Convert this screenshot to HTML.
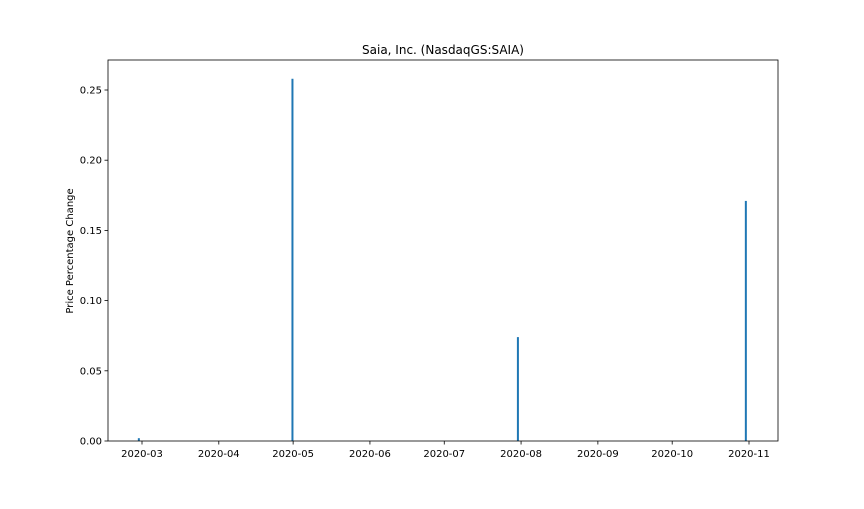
<!DOCTYPE html>
<html><head><meta charset="utf-8"><style>
body{margin:0;background:#fff;}
svg text{font-family:"DejaVu Sans","Liberation Sans",sans-serif;fill:#000;}
</style></head><body>
<svg id="chart" width="864" height="504" xmlns="http://www.w3.org/2000/svg">
<text x="443" y="54" font-size="12" text-anchor="middle">Saia, Inc. (NasdaqGS:SAIA)</text>
<text transform="translate(73,251) rotate(-90)" font-size="10" text-anchor="middle">Price Percentage Change</text>
<g id="marks"></g>
<g id="axes"></g>
</svg>
<script>
const dates=["2020-02-28","2020-04-30","2020-07-30","2020-10-30"];
const values=[0.002,0.258,0.074,0.171];
const yTicks=[0,0.05,0.10,0.15,0.20,0.25];
const yTickLabels=["0.00","0.05","0.10","0.15","0.20","0.25"];
const xTicks=["2020-03-01","2020-04-01","2020-05-01","2020-06-01","2020-07-01","2020-08-01","2020-09-01","2020-10-01","2020-11-01"];
const xTickLabels=["2020-03","2020-04","2020-05","2020-06","2020-07","2020-08","2020-09","2020-10","2020-11"];
const L=108,R=778,T=60,B=441;
const ns="http://www.w3.org/2000/svg";
const t0=Date.UTC(2020,2,1),t1=Date.UTC(2020,10,1);
function xs(d){const t=Date.parse(d+"T00:00:00Z");return 142+(t-t0)/(t1-t0)*607;}
function ys(v){return B-v*1404;}
function mk(tag,a,p){const e=document.createElementNS(ns,tag);for(const k in a)e.setAttribute(k,a[k]);p.appendChild(e);return e;}
const marks=document.getElementById('marks'),axes=document.getElementById('axes');
dates.forEach((d,i)=>{
 const x=xs(d)+1.8,y=ys(values[i]);
 const r=mk('rect',{x:x-1,y:y,width:2,height:B-y,fill:'#1f77b4'},marks);
 
 
});
const frame=mk('rect',{x:L,y:T,width:R-L,height:B-T,fill:'none',stroke:'#000','stroke-width':0.8},axes);


yTicks.forEach((v,i)=>{
 const y=ys(v);
 mk('line',{x1:L-3.5,x2:L,y1:y,y2:y,stroke:'#000','stroke-width':0.8},axes);
 const t=mk('text',{x:L-6,y:y+3.5,'font-size':10,'text-anchor':'end'},axes);
 t.textContent=yTickLabels[i];
 
 
});
xTicks.forEach((d,i)=>{
 const x=xs(d);
 mk('line',{x1:x,x2:x,y1:B,y2:B+3.5,stroke:'#000','stroke-width':0.8},axes);
 const t=mk('text',{x:x,y:B+16,'font-size':10,'text-anchor':'middle'},axes);
 t.textContent=xTickLabels[i];
 
 
});
</script>
</body></html>
